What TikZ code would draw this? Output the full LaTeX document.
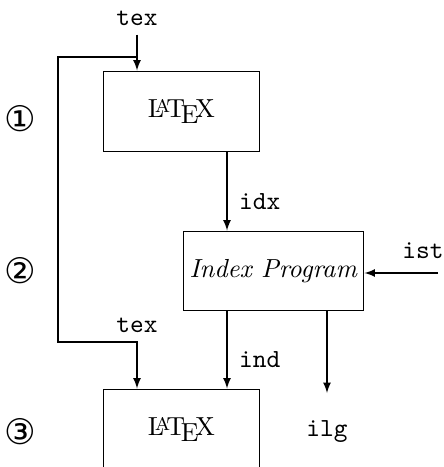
\documentclass[tikz,border=0pt]{standalone}
\usepackage{fontspec}
\newfontfamily\circfont{DejaVu Sans}
\usetikzlibrary{calc}
\begin{document}
\begin{tikzpicture}[x=0.383pt,y=-0.383pt,>=latex]
    \tikzstyle{prog}=[draw,minimum width=59.4pt,minimum height=31pt,inner sep=0pt]
    \tikzstyle{index prog}=[prog,minimum width=69.3pt,minimum height=30.6pt]
    \tikzstyle{fichier}=[font=\ttfamily];
    \tikzstyle{etape}=[font=\circfont,scale=1.35];
\useasboundingbox (0,0) rectangle (444,467);

% Programmes
\node[prog] (L-1) at (181.5,111.5) {\LaTeX};
\node[index prog] (I) at (273.5,271) {\textit{Index Program}};
\node[prog] (L-2) at (181.5,429.5) {\LaTeX};

% Etapes
\node[etape] (S-1) at (20,119) {①};
\node[etape] (S-2) at (20,271) {②};
\node[etape] (S-3) at (20,432) {③};

% Fichiers
\node[fichier] (F-tex) at (137,18) {tex};
\node[fichier,anchor=west] (F-idx) at (230,202) {idx};
\node[fichier] (F-ist) at (423,251) {ist};
\node[fichier] (F-tex2) at (137,325) {tex};
\node[fichier,anchor=west] (F-ind) at (230,360) {ind};
\node[fichier] (F-ilg) at (327,432) {ilg};

% Points de passage
\coordinate (C-tex) at (137,57);
\coordinate (C-idx) at (227,0);
\coordinate (C-ilg) at (327,0);
\coordinate (C-haut) at (58,57);
\coordinate (C-bas) at (137,342);
\coordinate (E-ist) at (438,273);
\coordinate (E-ilg) at (327,393);

% Fleches
 \draw[->] (F-tex.south) -- (L-1.north -| C-tex);
 \draw[->] (C-tex) -- (C-haut) |- (C-bas) -- (L-2.north -| C-bas);
 \draw[->] (L-1.south -| C-idx) -- (I.north -| C-idx);
 \draw[->] (E-ist) -- (E-ist -| I.east);
 \draw[->] (I.south -| C-idx) -- (L-2.north -| C-idx);
 \draw[->] (I.south -| C-ilg) -- (E-ilg);

\end{tikzpicture}
\end{document}
